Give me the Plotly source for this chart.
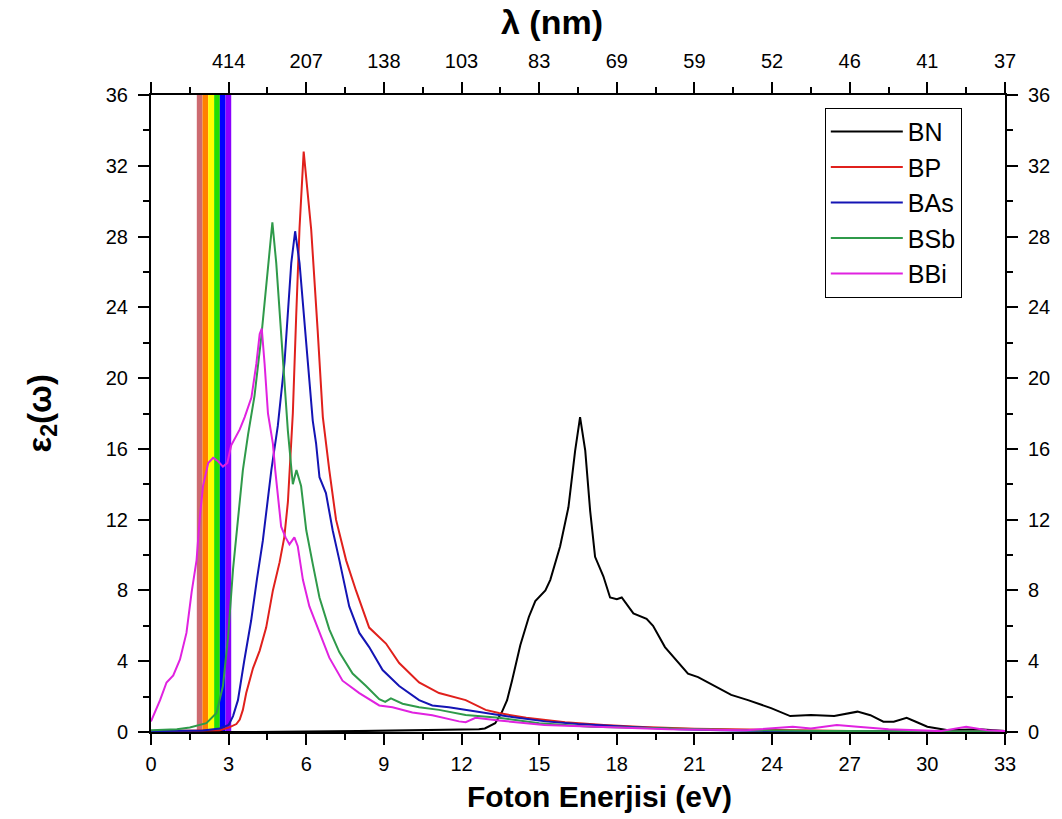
import plotly.graph_objects as go

# ---------------- data ----------------
BN_x = [0, 4, 8, 10, 12, 12.67, 12.9, 13.3, 13.55, 13.76, 13.95, 14.27, 14.6, 14.85, 15.24, 15.43, 15.81, 16.13, 16.39, 16.58,
        16.78, 16.97, 17.16, 17.48, 17.74, 18.0, 18.19, 18.64, 19.15, 19.4, 19.86, 20.75, 21.14, 22.42, 23.07, 23.96, 24.7, 25.5, 26.4, 27.3,
        27.8, 28.3, 28.7, 29.2, 29.6, 30.0, 30.8, 32.0, 33]
BN_y = [0, 0, 0.05, 0.08, 0.1, 0.15, 0.2, 0.5, 1.1, 1.8, 2.9, 4.9, 6.5, 7.4, 8.0, 8.6, 10.5, 12.7, 15.9, 17.8,
        15.9, 12.5, 9.9, 8.8, 7.6, 7.5, 7.6, 6.7, 6.4, 6.0, 4.8, 3.3, 3.1, 2.1, 1.8, 1.35, 0.9, 0.96, 0.9, 1.15,
        0.95, 0.58, 0.58, 0.8, 0.55, 0.3, 0.1, 0.15, 0.05]

BP_x = [0, 1, 2, 2.66, 3.0, 3.3, 3.43, 3.55, 3.68, 3.94, 4.2, 4.45, 4.71, 4.97, 5.15, 5.29, 5.48, 5.61, 5.74, 5.9,
        6.05, 6.19, 6.44, 6.64, 6.89, 7.15, 7.54, 7.92, 8.43, 9.08, 9.59, 10.36, 11.13, 12.16, 12.93, 13.44, 14.5, 16, 17.5, 19,
        21, 24, 27, 30, 33]
BP_y = [0.05, 0.05, 0.08, 0.1, 0.25, 0.45, 0.7, 1.25, 2.2, 3.6, 4.6, 5.9, 8.0, 9.6, 11.0, 13.0, 18.0, 23.5, 28.5, 32.8,
        30.5, 28.4, 22.7, 17.8, 14.8, 12.0, 9.7, 8.0, 5.9, 5.0, 3.9, 2.8, 2.2, 1.8, 1.25, 1.07, 0.8, 0.55, 0.4, 0.28,
        0.18, 0.1, 0.06, 0.04, 0.03]

BAs_x = [0, 1, 2, 2.66, 3.0, 3.17, 3.36, 3.6, 3.87, 4.1, 4.32, 4.65, 4.9, 5.16, 5.42, 5.57, 5.74, 6.06, 6.25, 6.38,
         6.51, 6.76, 7.02, 7.28, 7.66, 8.05, 8.43, 8.95, 9.59, 10.36, 10.87, 11.51, 12.16, 12.93, 13.44, 13.95, 15.24, 16.5, 18.4, 20.4,
         22, 24.2, 27, 30, 33]
BAs_y = [0.05, 0.05, 0.08, 0.2, 0.4, 0.9, 1.8, 4.0, 6.3, 8.7, 10.8, 14.8, 17.3, 20.9, 26.5, 28.3, 26.5, 20.9, 17.6, 16.3,
         14.4, 13.5, 11.4, 9.7, 7.1, 5.6, 4.8, 3.5, 2.6, 1.8, 1.5, 1.4, 1.25, 1.07, 0.96, 0.85, 0.6, 0.45, 0.3, 0.15,
         0.1, 0.05, 0.04, 0.03, 0.02]

BSb_x = [0, 1, 1.5, 2.14, 2.53, 2.78, 2.98, 3.17, 3.36, 3.55, 3.75, 4.0, 4.26, 4.52, 4.69, 4.84, 5.03, 5.29, 5.48, 5.62,
         5.8, 6.0, 6.25, 6.51, 6.89, 7.28, 7.79, 8.31, 8.82, 9.05, 9.27, 9.72, 10.36, 11.13, 12.16, 13.44, 15, 17, 20, 23,
         26, 30, 33]
BSb_y = [0.1, 0.15, 0.25, 0.5, 1.07, 2.6, 5.4, 9.2, 12.0, 14.8, 16.8, 19.0, 22.3, 26.5, 28.8, 26.5, 22.7, 17.0, 14.0, 14.8,
         13.9, 11.4, 9.5, 7.6, 5.8, 4.5, 3.3, 2.6, 1.85, 1.7, 1.9, 1.6, 1.4, 1.25, 0.96, 0.8, 0.5, 0.3, 0.2, 0.1,
         0.06, 0.05, 0.03]

BBi_x = [0, 0.35, 0.6, 0.86, 1.12, 1.37, 1.57, 1.76, 1.89, 2.01, 2.21, 2.4, 2.59, 2.78, 2.95, 3.1, 3.43, 3.62, 3.88, 4.07,
         4.2, 4.28, 4.39, 4.52, 4.71, 4.8, 5.03, 5.2, 5.35, 5.54, 5.67, 5.87, 6.12, 6.51, 6.89, 7.4, 8.05, 8.82, 9.33, 10.1,
         10.87, 11.9, 12.16, 12.54, 13.44, 15.2, 17, 20, 23, 24.8, 25.5, 26.5, 27.3, 28.5, 30.5, 31.5, 32.3, 33]
BBi_y = [0.6, 1.8, 2.8, 3.2, 4.1, 5.6, 7.9, 9.7, 12.2, 13.9, 15.2, 15.5, 15.3, 15.0, 15.2, 16.2, 17.1, 17.8, 18.9, 20.8,
         22.5, 22.8, 20.8, 18.0, 16.3, 14.8, 11.6, 11.0, 10.6, 11.0, 10.5, 8.6, 7.1, 5.6, 4.2, 2.9, 2.2, 1.5, 1.4, 1.1,
         0.95, 0.6, 0.55, 0.8, 0.65, 0.4, 0.3, 0.15, 0.1, 0.3, 0.2, 0.4, 0.3, 0.15, 0.05, 0.3, 0.1, 0.05]

SERIES = [("BN", BN_x, BN_y, "#000000"),
          ("BP", BP_x, BP_y, "#e0201c"),
          ("BAs", BAs_x, BAs_y, "#1414b4"),
          ("BSb", BSb_x, BSb_y, "#2f9a4a"),
          ("BBi", BBi_x, BBi_y, "#e022e0")]

# visible spectrum band (eV)
BAND_EDGES = [1.77, 1.99, 2.21, 2.44, 2.66, 2.88, 3.1]
BAND_COLORS = ["#cd6a70", "#ff8000", "#ffff00", "#22dd00", "#0000ff", "#8a00ff"]

X_TICKS = [0, 3, 6, 9, 12, 15, 18, 21, 24, 27, 30, 33]
TOP_TICK_VALS = [0, 3, 6, 9, 12, 15, 18, 21, 24, 27, 30, 33]
TOP_TICK_TEXT = ["", "414", "207", "138", "103", "83", "69", "59", "52", "46", "41", "37"]
Y_TICKS = [0, 4, 8, 12, 16, 20, 24, 28, 32, 36]

FONT = "Arial, Liberation Sans, sans-serif"

fig = go.Figure()

for name, xs, ys, col in SERIES:
    fig.add_trace(go.Scatter(x=xs, y=ys, mode="lines", name=name,
                             line=dict(color=col, width=2), legendgroup=name,
                             xaxis="x", yaxis="y"))

# invisible helper trace for secondary axes
fig.add_trace(go.Scatter(x=[0, 33], y=[0, 36], mode="markers", marker=dict(opacity=0),
                         showlegend=False, hoverinfo="skip", xaxis="x2", yaxis="y2"))

for i, c in enumerate(BAND_COLORS):
    fig.add_shape(type="rect", xref="x", yref="y", x0=BAND_EDGES[i], x1=BAND_EDGES[i + 1],
                  y0=0, y1=36, fillcolor=c, line=dict(width=0), layer="below")

MINOR = dict(ticks="outside", ticklen=6, tickwidth=1.5, tickcolor="black")
axis_common = dict(showline=True, linecolor="black", linewidth=2, ticks="outside",
                   ticklen=11, tickwidth=1.5, tickcolor="black", showgrid=False, zeroline=False,
                   tickfont=dict(family=FONT, size=20, color="black"))

fig.update_layout(
    width=1062, height=819,
    margin=dict(l=151, r=54, t=95, b=87),
    paper_bgcolor="white", plot_bgcolor="white",
    font=dict(family=FONT, color="black"),
    xaxis=dict(range=[0, 33], tickmode="array", tickvals=X_TICKS,
               minor=dict(dtick=1.5, tick0=0, **MINOR), ticklabelstandoff=2,
               **axis_common),
    xaxis2=dict(range=[0, 33], overlaying="x", side="top", tickmode="array",
                tickvals=TOP_TICK_VALS, ticktext=TOP_TICK_TEXT,
                minor=dict(dtick=1.5, tick0=0, **MINOR), ticklabelstandoff=6,
                **axis_common),
    yaxis=dict(range=[0, 36], tickmode="array", tickvals=Y_TICKS,
               minor=dict(dtick=2, tick0=0, **MINOR), ticklabelstandoff=6,
               **axis_common),
    yaxis2=dict(range=[0, 36], overlaying="y", side="right", tickmode="array", tickvals=Y_TICKS,
                minor=dict(dtick=2, tick0=0, **MINOR), ticklabelstandoff=6,
                **axis_common),
    legend=dict(x=0.789, y=0.98, xanchor="left", yanchor="top",
                bgcolor="white", bordercolor="black", borderwidth=1,
                font=dict(family=FONT, size=25, color="black"),
                tracegroupgap=0, itemwidth=72),
    showlegend=True,
)

fig.add_annotation(text="<b>λ (nm)</b>", xref="paper", yref="paper", x=0.47, y=1.0,
                   yshift=73, showarrow=False, font=dict(family=FONT, size=34, color="black"),
                   xanchor="center", yanchor="middle")
fig.add_annotation(text="<b>Foton Enerjisi (eV)</b>", xref="paper", yref="paper", x=0.525, y=0,
                   yshift=-64, showarrow=False, font=dict(family=FONT, size=30, color="black"),
                   xanchor="center", yanchor="middle")
fig.add_annotation(text="<b>ε<sub>2</sub>(ω)</b>", xref="paper", yref="paper", x=0, y=0.5,
                   xshift=-110, showarrow=False, textangle=-90,
                   font=dict(family=FONT, size=33, color="black"),
                   xanchor="center", yanchor="middle")

fig.write_html("out.html")
